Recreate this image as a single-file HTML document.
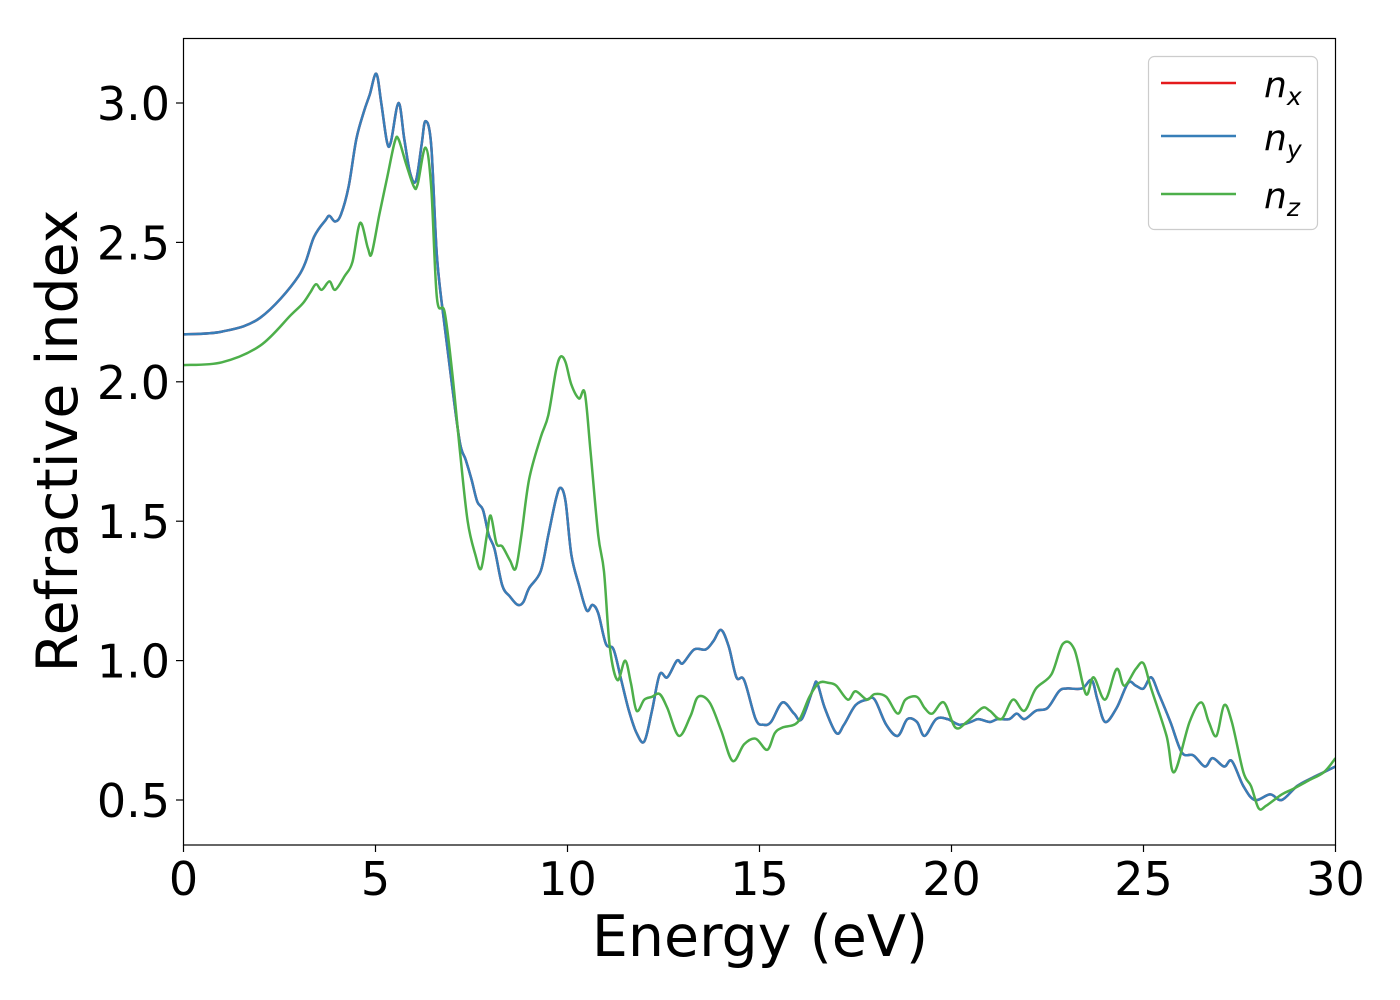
<!DOCTYPE html>
<html><head><meta charset="utf-8"><style>
body{margin:0;background:#fff;}
svg{display:block;font-family:"DejaVu Sans","Liberation Sans",sans-serif;}
</style></head><body>
<svg id="chart" width="1400" height="1000">
<rect x="0" y="0" width="1400" height="1000" fill="#fff"/>
<g id="series"></g>
<rect x="183.5" y="38.5" width="1152" height="806.5" fill="none" stroke="#000" stroke-width="1.2"/>
<g id="axes"></g>
<text x="760" y="956" font-size="57" text-anchor="middle">Energy (eV)</text>
<text transform="translate(77,441) rotate(-90)" font-size="57" text-anchor="middle">Refractive index</text>
<g>
<rect x="1148.5" y="56.5" width="169" height="173" rx="6" fill="#fff" fill-opacity="0.8" stroke="#ccc" stroke-width="1.2"/>
<g><line x1="1161" y1="83" x2="1236" y2="83" stroke="#e41a1c" stroke-width="2.5"/><text x="1264" y="97" font-size="36" font-style="italic">n<tspan font-size="25" dy="8">x</tspan></text></g>
<g><line x1="1161" y1="136" x2="1236" y2="136" stroke="#377eb8" stroke-width="2.5"/><text x="1264" y="150" font-size="36" font-style="italic">n<tspan font-size="25" dy="8">y</tspan></text></g>
<g><line x1="1161" y1="194" x2="1236" y2="194" stroke="#4daf4a" stroke-width="2.5"/><text x="1264" y="208" font-size="36" font-style="italic">n<tspan font-size="25" dy="8">z</tspan></text></g>
</g>
</svg>
<script>
const xTicks = [0,5,10,15,20,25,30];
const yTicks = [0.5,1.0,1.5,2.0,2.5,3.0];
const yTickLabels = ["0.5","1.0","1.5","2.0","2.5","3.0"];
const nyEnergy = [0,1,2,3,3.4,3.7,3.8,3.95,4.1,4.3,4.5,4.7,4.85,5.02,5.15,5.3,5.4,5.6,5.75,5.9,6.05,6.2,6.3,6.45,6.6,6.8,7.0,7.2,7.35,7.5,7.65,7.8,7.95,8.1,8.3,8.5,8.7,8.85,9.0,9.3,9.5,9.7,9.82,9.95,10.1,10.3,10.5,10.65,10.8,11.0,11.2,11.4,11.6,11.8,12.0,12.2,12.4,12.6,12.85,13.0,13.3,13.6,13.8,14.0,14.2,14.4,14.6,14.9,15.1,15.3,15.6,15.9,16.1,16.4,16.5,16.7,17.0,17.2,17.5,17.8,18.0,18.3,18.6,18.85,19.1,19.3,19.6,19.9,20.2,20.5,20.7,21.0,21.2,21.5,21.7,21.9,22.2,22.5,22.8,23.0,23.4,23.65,23.8,24.0,24.3,24.6,24.8,25.0,25.2,25.4,25.7,26.0,26.3,26.6,26.8,27.1,27.3,27.6,27.9,28.3,28.6,29.0,29.4,29.7,30];
const nyValues = [2.17,2.18,2.23,2.38,2.52,2.58,2.595,2.575,2.6,2.7,2.87,2.97,3.03,3.105,3.0,2.86,2.86,3.0,2.87,2.75,2.72,2.85,2.935,2.85,2.45,2.2,1.98,1.78,1.72,1.65,1.57,1.54,1.45,1.4,1.27,1.23,1.2,1.21,1.26,1.32,1.45,1.58,1.62,1.57,1.38,1.27,1.18,1.2,1.17,1.06,1.04,0.93,0.82,0.74,0.71,0.82,0.95,0.94,1.0,0.99,1.04,1.04,1.07,1.11,1.05,0.94,0.93,0.79,0.77,0.78,0.85,0.81,0.79,0.9,0.92,0.83,0.74,0.77,0.84,0.86,0.86,0.77,0.73,0.79,0.78,0.73,0.79,0.79,0.77,0.78,0.79,0.78,0.79,0.79,0.81,0.79,0.82,0.83,0.89,0.9,0.9,0.93,0.86,0.78,0.83,0.92,0.91,0.9,0.94,0.88,0.78,0.67,0.66,0.62,0.65,0.62,0.64,0.55,0.5,0.52,0.5,0.55,0.58,0.6,0.62];
const nxValues = nyValues.slice();
const nzEnergy = [0,1,2,2.8,3.1,3.3,3.45,3.6,3.8,3.95,4.2,4.4,4.6,4.8,4.9,5.1,5.3,5.5,5.6,5.8,6.0,6.1,6.3,6.45,6.6,6.8,7.0,7.2,7.4,7.6,7.75,7.9,8.0,8.15,8.3,8.5,8.65,8.8,9.0,9.3,9.5,9.7,9.82,9.95,10.1,10.3,10.45,10.6,10.8,10.95,11.1,11.3,11.5,11.65,11.8,12.0,12.2,12.4,12.6,12.9,13.2,13.4,13.7,14.0,14.3,14.6,14.9,15.2,15.4,15.6,16.0,16.3,16.55,16.8,17.0,17.3,17.5,17.8,18.0,18.3,18.6,18.8,19.1,19.3,19.5,19.8,20.1,20.4,20.8,21.0,21.3,21.6,21.9,22.2,22.6,22.9,23.2,23.5,23.7,24.0,24.3,24.5,24.8,25.0,25.2,25.6,25.8,26.2,26.5,26.7,26.9,27.1,27.3,27.6,27.8,28.0,28.2,28.6,28.9,29.3,29.7,30];
const nzValues = [2.06,2.07,2.13,2.24,2.28,2.32,2.35,2.33,2.36,2.33,2.38,2.43,2.57,2.48,2.46,2.6,2.73,2.86,2.87,2.78,2.7,2.71,2.84,2.7,2.3,2.25,2.03,1.75,1.5,1.38,1.33,1.45,1.52,1.42,1.41,1.36,1.33,1.45,1.65,1.8,1.88,2.04,2.09,2.07,1.99,1.94,1.96,1.75,1.45,1.32,1.05,0.93,1.0,0.92,0.82,0.86,0.87,0.88,0.83,0.73,0.8,0.87,0.85,0.75,0.64,0.7,0.72,0.68,0.74,0.76,0.78,0.87,0.92,0.92,0.91,0.86,0.89,0.86,0.88,0.87,0.81,0.86,0.87,0.83,0.81,0.85,0.76,0.78,0.83,0.82,0.79,0.86,0.82,0.9,0.95,1.06,1.04,0.88,0.94,0.86,0.97,0.91,0.97,0.99,0.9,0.73,0.6,0.78,0.85,0.78,0.73,0.84,0.78,0.6,0.55,0.47,0.48,0.52,0.54,0.57,0.6,0.65];

const X0=183.5, X1=1335.5, XMIN=0, XMAX=30;
const YV0=3.0, YP0=103, PPU=278.8;
function xs(e){return X0+(e-XMIN)/(XMAX-XMIN)*(X1-X0);}
function ys(v){return YP0+(YV0-v)*PPU;}
const NS="http://www.w3.org/2000/svg";
function pathFor(E,V){
  const p=E.map((e,i)=>[xs(e),ys(V[i])]);
  let d="M"+p[0][0].toFixed(2)+","+p[0][1].toFixed(2);
  for(let i=0;i<p.length-1;i++){
    const a=p[Math.max(0,i-1)],b=p[i],c=p[i+1],n=p[Math.min(p.length-1,i+2)];
    const c1=[b[0]+(c[0]-a[0])/6,b[1]+(c[1]-a[1])/6];
    const c2=[c[0]-(n[0]-b[0])/6,c[1]-(n[1]-b[1])/6];
    d+=" C"+c1[0].toFixed(2)+","+c1[1].toFixed(2)+" "+c2[0].toFixed(2)+","+c2[1].toFixed(2)+" "+c[0].toFixed(2)+","+c[1].toFixed(2);
  }
  return d;
}
const series=document.getElementById('series');
const cp=document.createElementNS(NS,'clipPath');cp.setAttribute('id','clip');
const cr=document.createElementNS(NS,'rect');cr.setAttribute('x',X0);cr.setAttribute('y',38);cr.setAttribute('width',X1-X0);cr.setAttribute('height',807);
cp.appendChild(cr);series.appendChild(cp);
function addLine(E,V,color,name){
  const el=document.createElementNS(NS,'path');
  el.setAttribute('d',pathFor(E,V));
  el.setAttribute('fill','none');el.setAttribute('stroke',color);el.setAttribute('stroke-width','2.5');
  el.setAttribute('clip-path','url(#clip)');
  
  
  series.appendChild(el);
}
addLine(nyEnergy,nxValues,'#e41a1c','line-nx');
addLine(nyEnergy,nyValues,'#377eb8','line-ny');
addLine(nzEnergy,nzValues,'#4daf4a','line-nz');

const axes=document.getElementById('axes');
xTicks.forEach(t=>{
  const l=document.createElementNS(NS,'line');
  l.setAttribute('x1',xs(t));l.setAttribute('x2',xs(t));l.setAttribute('y1',845);l.setAttribute('y2',852);l.setAttribute('stroke','#000');l.setAttribute('stroke-width','1.2');
  
  
  axes.appendChild(l);
  const tx=document.createElementNS(NS,'text');
  tx.setAttribute('x',xs(t));tx.setAttribute('y',895);tx.setAttribute('font-size','46');tx.setAttribute('text-anchor','middle');
  tx.textContent=String(t);
  
  
  axes.appendChild(tx);
});
yTicks.forEach((t,i)=>{
  const l=document.createElementNS(NS,'line');
  l.setAttribute('x1',176);l.setAttribute('x2',183.5);l.setAttribute('y1',ys(t));l.setAttribute('y2',ys(t));l.setAttribute('stroke','#000');l.setAttribute('stroke-width','1.2');
  
  
  axes.appendChild(l);
  const tx=document.createElementNS(NS,'text');
  tx.setAttribute('x',170);tx.setAttribute('y',ys(t)+17);tx.setAttribute('font-size','46');tx.setAttribute('text-anchor','end');
  tx.textContent=yTickLabels[i];
  
  
  axes.appendChild(tx);
});
</script>
</body></html>
